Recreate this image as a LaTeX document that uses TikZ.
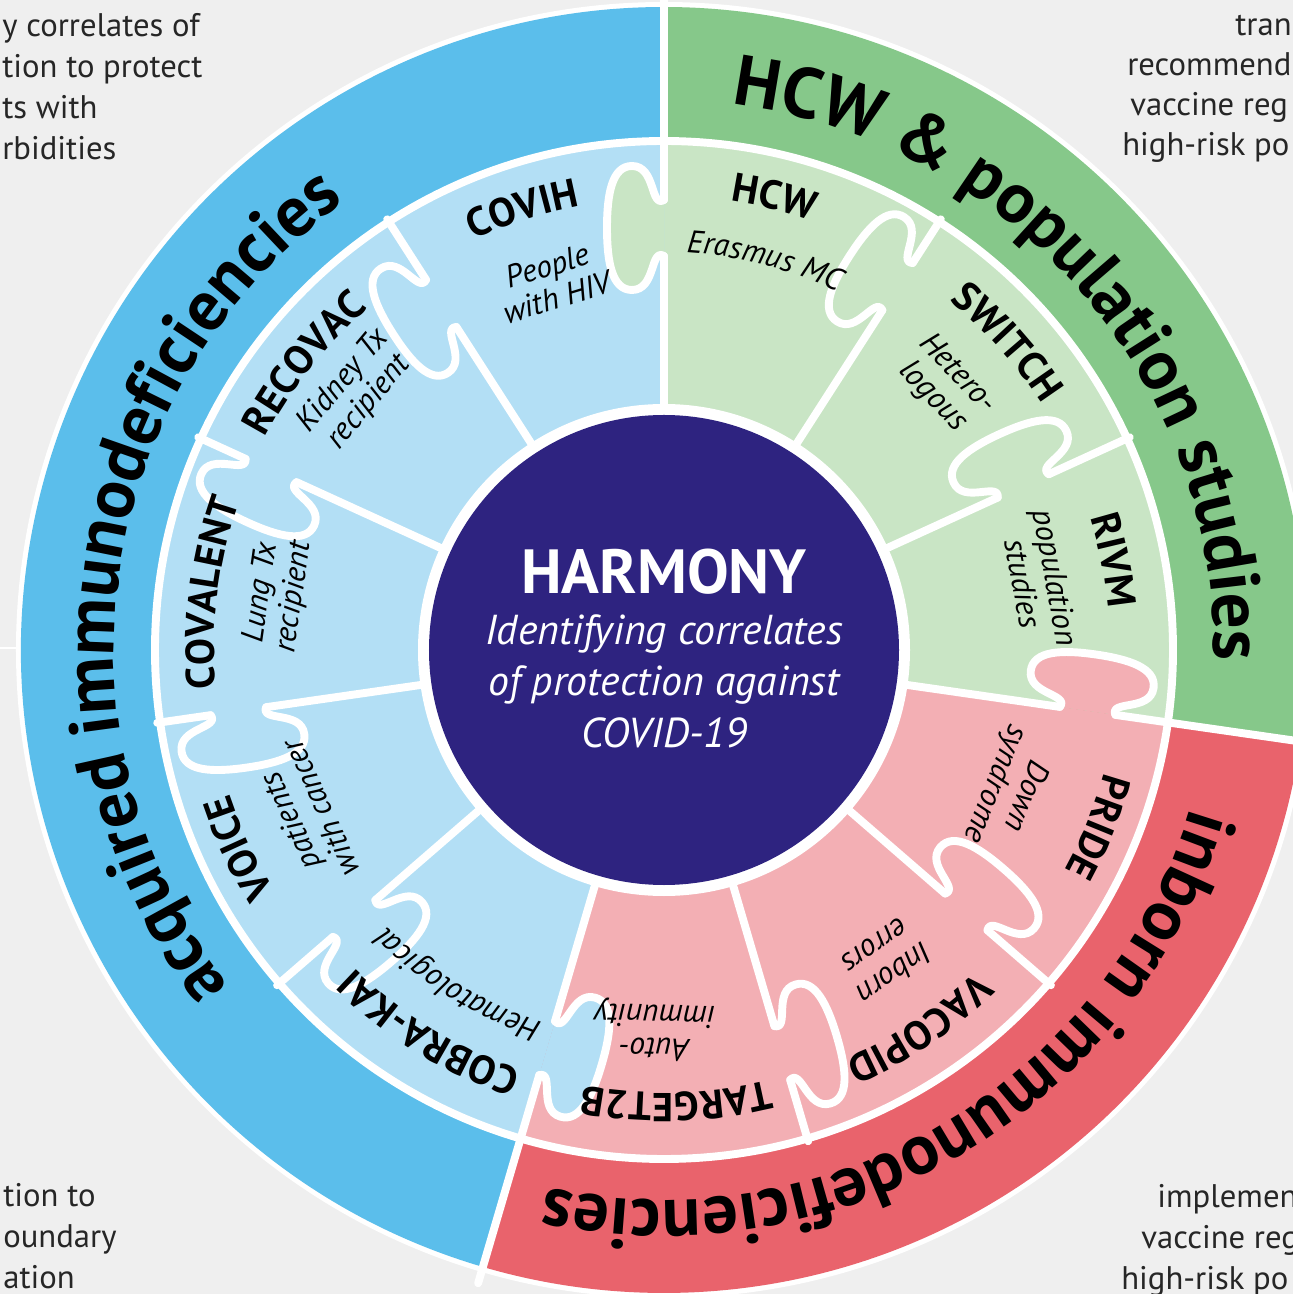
\documentclass[tikz,border=0pt]{standalone}
\usepackage{fontspec}
\setmainfont{PT Sans}
\usetikzlibrary{decorations.text}

\definecolor{bg}{HTML}{EFEFEF}
\definecolor{bandblue}{HTML}{5BBEEB}
\definecolor{pieceblue}{HTML}{B3DFF5}
\definecolor{bandgreen}{HTML}{86C88A}
\definecolor{piecegreen}{HTML}{C9E5C5}
\definecolor{bandred}{HTML}{E9636C}
\definecolor{piecered}{HTML}{F3AFB4}
\definecolor{harmonyblue}{HTML}{2E2380}

\newcommand{\bandfont}{\fontsize{40.5}{40.5}\selectfont\bfseries}
\newcommand{\titlefont}{\fontsize{23}{23}\selectfont\bfseries}
\newcommand{\subfont}{\fontsize{18}{19}\selectfont\itshape}

\tikzset{
  sep/.style={draw=white, line width=4.5pt, line cap=round, line join=round},
  subtitle/.style={font=\subfont, align=center, inner sep=0pt},
  sidetext/.style={font=\fontsize{18.6}{23.3}\selectfont, text=black!85, inner sep=0pt, align=left},
}

% white divider between two pieces, with a knob: angle, knob radius, knob colour
\newcommand{\piecesep}[3]{%
  \begin{scope}[rotate=#1]
    \filldraw[sep, fill=#3] ({#2-28},0) .. controls ({#2-20},14) and ({#2-62},8) .. ({#2-62},32)
      .. controls ({#2-62},52) and ({#2-34},57) .. (#2,57)
      .. controls ({#2+34},57) and ({#2+62},52) .. ({#2+62},32)
      .. controls ({#2+62},8) and ({#2+20},14) .. ({#2+28},0);
    \draw[sep] (238,0) -- ({#2-28},0) ({#2+28},0) -- (512,0);
  \end{scope}}

% text on a clockwise arc: angle, radius, font, text
\newcommand{\arctext}[4]{%
  \path[decorate, decoration={text along path, text align=center, text={|#3|#4}}]
    ({#1+50}:#2) arc[start angle={#1+50}, end angle={#1-50}, radius=#2];}

\begin{document}
\begin{tikzpicture}[x=0.02cm, y=0.02cm]
\useasboundingbox (-664,-644) rectangle (629,650);
\clip (-664,-644) rectangle (629,650);
\fill[bg] (-664,-644) rectangle (629,650);

% side texts
\node[sidetext, anchor=north west] (topleft) at (-662,637) {y correlates of\\tion to protect\\ts with\\rbidities};
\node[sidetext, anchor=north west] (bottomleft) at (-661,-533) {tion to\\oundary\\ation};
\node[sidetext, anchor=base west] (tr1) at (571,614) {tran};
\node[sidetext, anchor=base west] (tr2) at (463,574) {recommend};
\node[sidetext, anchor=base west] (tr3) at (466,534) {vaccine reg};
\node[sidetext, anchor=base west] (tr4) at (458,494) {high-risk po};
\node[sidetext, anchor=base west] (br1) at (493,-557) {implemen};
\node[sidetext, anchor=base west] (br2) at (477,-598) {vaccine reg};
\node[sidetext, anchor=base west] (br3) at (457,-639) {high-risk po};
\draw[white, line width=1.5pt] (-664,2) -- (-640,2);

% outer bands
\fill[white] (0,0) circle[radius=648];
\fill[bandgreen] (0,0) -- (90:643) arc[start angle=90, end angle=-8.18, radius=643] -- cycle;
\fill[bandred] (0,0) -- (-8.18:643) arc[start angle=-8.18, end angle=-106.36, radius=643] -- cycle;
\fill[bandblue] (0,0) -- (-106.36:643) arc[start angle=-106.36, end angle=-270, radius=643] -- cycle;
\draw[sep] (90:505) -- (90:660);
\draw[sep] (-8.18:505) -- (-8.18:660);
\draw[sep] (-106.36:505) -- (-106.36:660);

\arctext{171.6}{550}{\bandfont}{acquired immunodeficiencies}
\arctext{40.9}{550}{\bandfont}{HCW {\&} population studies}
\arctext{-59.5}{550}{\bandfont}{inborn immunodeficiencies}

% puzzle pieces
\fill[piecegreen] (0,0) -- (90:507) arc[start angle=90, end angle=-8.18, radius=507] -- cycle;
\fill[piecered] (0,0) -- (-8.18:507) arc[start angle=-8.18, end angle=-106.36, radius=507] -- cycle;
\fill[pieceblue] (0,0) -- (-106.36:507) arc[start angle=-106.36, end angle=-270, radius=507] -- cycle;
\draw[white, line width=4.5pt] (0,0) circle[radius=509];

\piecesep{90}{422}{piecegreen}
\piecesep{57.27}{432}{piecegreen}
\piecesep{24.55}{395}{piecegreen}
\piecesep{-8.18}{428}{piecered}
\piecesep{-40.91}{400}{piecered}
\piecesep{-73.64}{420}{piecered}
\piecesep{-106.36}{415}{pieceblue}
\piecesep{-139.09}{410}{pieceblue}
\piecesep{-171.82}{430}{pieceblue}
\piecesep{-204.55}{432}{pieceblue}
\piecesep{-237.27}{412}{pieceblue}

% piece names
\arctext{107.8}{452}{\titlefont}{COVIH}
\arctext{141.4}{452}{\titlefont}{RECOVAC}
\arctext{172.8}{450}{\titlefont}{COVALENT}
\arctext{205}{458}{\titlefont}{VOICE}
\arctext{238.5}{444}{\titlefont}{COBRA-KAI}
\arctext{271.6}{443}{\titlefont}{TARGET2B}
\arctext{304}{448}{\titlefont}{VACOPID}
\arctext{337.8}{457}{\titlefont}{PRIDE}
\arctext{11.3}{446}{\titlefont}{RIVM}
\arctext{41.9}{451}{\titlefont}{SWITCH}
\arctext{76.3}{454}{\titlefont}{HCW}

% piece groups
\node[subtitle, rotate=16.9] (covih) at (106.9:385) {People\\with HIV};
\node[subtitle, rotate=50] (recovac) at (140:402) {Kidney Tx\\recipient};
\node[subtitle, rotate=81.9] (covalent) at (171.9:390) {Lung Tx\\recipient};
\node[subtitle, rotate=114.7] (voice) at (204.7:395) {patients\\with cancer};
\node[subtitle, rotate=178.6] (target) at (268.6:380) {Auto-\\immunity};
\node[subtitle, rotate=-144.5] (vacopid) at (-54.5:381) {Inborn\\errors};
\node[subtitle, rotate=-112] (pride) at (-22:373) {Down\\syndrome};
\node[subtitle, rotate=-79.5] (rivm) at (10.5:382) {population\\studies};
\node[subtitle, rotate=-46.7] (switch) at (43.3:386) {Hetero-\\logous};
\arctext{75.5}{398}{\subfont}{Erasmus MC}
\arctext{238.4}{392}{\subfont}{Hematological}

% centre
\fill[white] (0,0) circle[radius=246];
\fill[harmonyblue] (0,0) circle[radius=235];
\node[font=\fontsize{35.5}{35.5}\selectfont\bfseries, text=white] (harmony) at (0,78) {HARMONY};
\node[font=\fontsize{23.8}{29.3}\selectfont\itshape, text=white, align=center] (aim) at (0,-31) {Identifying correlates\\of protection against\\COVID-19};

\end{tikzpicture}
\end{document}
